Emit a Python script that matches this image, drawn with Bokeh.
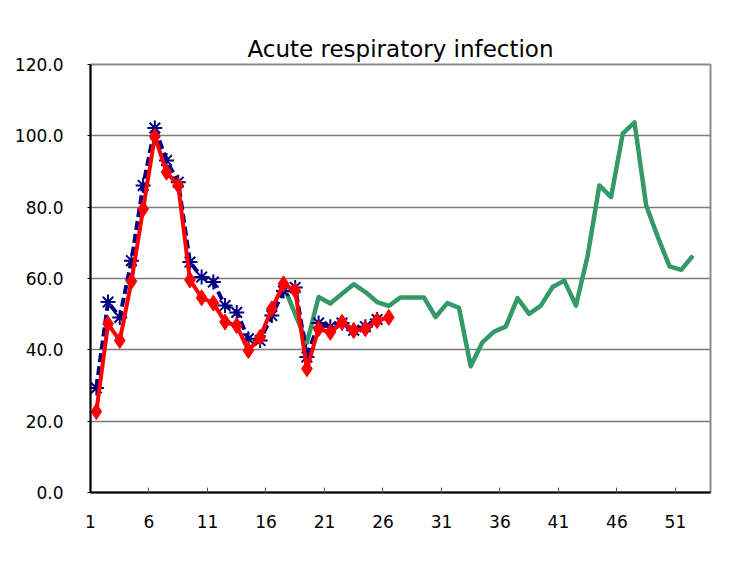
from bokeh.plotting import figure
from bokeh.models import FixedTicker, Range1d
from bokeh.embed import file_html
from bokeh.resources import INLINE

# ---- data ----
weeks_red = list(range(1, 27))
red_values = [22.7, 47.3, 42.6, 59.2, 79.5, 99.8, 89.8, 86.1, 59.6, 54.6, 53.1, 47.8, 46.8,
              39.8, 43.5, 51.5, 58.5, 56.6, 34.7, 45.9, 44.9, 47.7, 45.4, 45.9, 48.2, 49.1]

weeks_blue = list(range(1, 26))
blue_values = [29.3, 53.4, 49.1, 65.0, 86.1, 102.2, 93.1, 87.0, 64.6, 60.4, 59.0, 52.4, 50.5,
               43.1, 42.6, 49.6, 56.5, 57.5, 38.0, 47.5, 46.5, 47.5, 45.5, 46.5, 48.5]

weeks_green = list(range(17, 53))
green_values = [58.0, 50.0, 42.0, 54.8, 53.0, 55.7, 58.4, 56.2, 53.4, 52.3, 54.7, 54.7, 54.7,
                49.2, 53.1, 51.8, 35.4, 42.1, 45.1, 46.5, 54.5, 50.1, 52.4, 57.6, 59.4, 52.4,
                66.4, 86.1, 82.8, 100.6, 103.8, 80.5, 71.6, 63.4, 62.4, 66.4]

x_tick_positions = [0.5, 5.5, 10.5, 15.5, 20.5, 25.5, 30.5, 35.5, 40.5, 45.5, 50.5]
x_tick_labels = ["1", "6", "11", "16", "21", "26", "31", "36", "41", "46", "51"]
y_ticks = [0, 20, 40, 60, 80, 100, 120]

FONT = "DejaVu Sans"

p = figure(width=715, height=554, output_backend="svg", toolbar_location=None,
           x_range=Range1d(0.5, 53.5), y_range=Range1d(0, 120),
           min_border_left=90, min_border_right=5, min_border_top=64, min_border_bottom=62)

p.title.text = "Acute respiratory infection"
p.title.align = "center"
p.title.offset = -8
p.title.standoff = 5
p.title.text_font = FONT
p.title.text_font_size = "23px"
p.title.text_font_style = "normal"
p.title.text_color = "#000000"

p.outline_line_color = "#8c8c8c"
p.outline_line_width = 2

# axes
p.xaxis.ticker = FixedTicker(ticks=x_tick_positions)
p.xaxis.major_label_overrides = {t: l for t, l in zip(x_tick_positions, x_tick_labels)}
p.xaxis.major_tick_in = 5
p.xaxis.major_tick_out = 0
p.xaxis.minor_tick_line_color = None
p.xaxis.axis_line_color = "#000000"
p.xaxis.axis_line_width = 2
p.xaxis.major_tick_line_color = "#555555"
p.xaxis.major_label_standoff = 22

p.yaxis.ticker = FixedTicker(ticks=y_ticks)
p.yaxis.major_label_overrides = {v: f"{v:.1f}" for v in y_ticks}
p.yaxis.major_tick_in = 0
p.yaxis.major_tick_out = 3
p.yaxis.minor_tick_line_color = None
p.yaxis.axis_line_color = "#000000"
p.yaxis.axis_line_width = 2
p.yaxis.major_label_standoff = 24

for ax in (p.xaxis, p.yaxis):
    ax.major_label_text_font = FONT
    ax.major_label_text_font_size = "17px"
    ax.major_label_text_color = "#000000"

p.xgrid.grid_line_color = None
p.ygrid.grid_line_color = "#7a7a7a"
p.ygrid.grid_line_width = 1.5
p.ygrid.ticker = FixedTicker(ticks=y_ticks)

# series
p.line(weeks_green, green_values, line_color="#339966", line_width=4.5, line_join="round")

p.line(weeks_blue, blue_values, line_color="#000080", line_width=4, line_dash="9 4")
p.scatter(weeks_blue, blue_values, marker="asterisk", size=15, line_color="#000080",
          line_width=2)

p.line(weeks_red, red_values, line_color="#FF0000", line_width=4, line_join="round")
p.scatter(weeks_red, red_values, marker="diamond", size=16, fill_color="#FF0000",
          line_color="#FF0000")

open("out.html", "w").write(file_html(p, INLINE))
